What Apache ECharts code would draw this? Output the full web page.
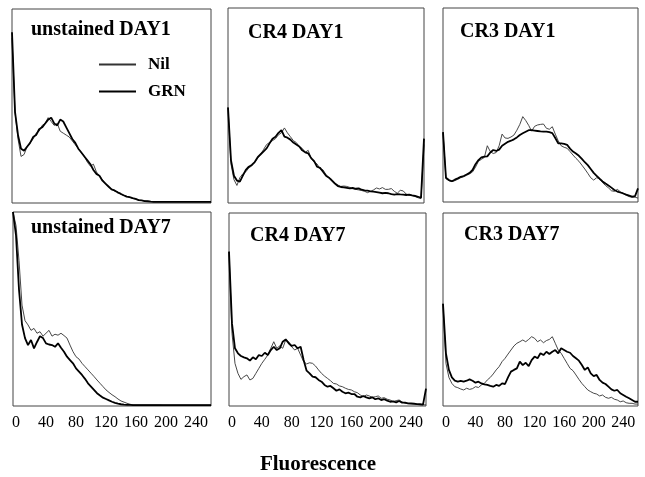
<!DOCTYPE html>
<html><head><meta charset="utf-8">
<script src="https://cdn.jsdelivr.net/npm/echarts@6/dist/echarts.min.js"></script>
<style>html,body{margin:0;padding:0;background:#fff}#c{width:645px;height:477px}</style>
</head><body><div id="c"></div><script>
// Fluorescence channel bins (x categories)
const xBins = [-4,0,4,8,12,16,20,24,28,32,36,40,44,48,52,56,60,64,68,72,76,80,84,88,92,96,100,104,108,112,116,120,124,128,132,136,140,144,148,152,156,160,164,168,172,176,180,184,188,192,196,200,204,208,212,216,220,224,228,232,236,240,244,248,252,256,260];
const tickLabels = ['0','40','80','120','160','200','240'];
const panelTitles = ['unstained DAY1','CR4 DAY1','CR3 DAY1','unstained DAY7','CR4 DAY7','CR3 DAY7'];
const axisTitle = 'Fluorescence';
const seriesNames = ['Nil','GRN'];

// Relative counts (% of panel height)
const nil1 = [85,47,33,24,25,29,31,33,36,37, 40,41,44,42,40,41,37,36,35,34, 32,30,28,26,24,21,19,20,16,14, 12,10,8.4,7.2,6.2,5.8,4.5,4,3.5,3, 2.4,2,1.6,1.3,1.1,0.9,0.8,0.6,0.6,0.6, 0.6,0.6,0.6,0.6,0.6,0.6,0.6,0.6,0.6,0.6, 0.6,0.6,0.6,0.6,0.6,0.6,0.6];
const grn1 = [88,47,35,28,27,29,31,34,35,38, 39,41,43,44,41,40,43,42,39,36, 33,31,28,26,24,22,20,17,15,14, 11.5,10,8.5,7,6.5,5.5,4.8,4,3.3,3, 2.5,2.1,1.5,1.4,1,0.9,0.7,0.6,0.6,0.6, 0.6,0.6,0.6,0.6,0.6,0.6,0.6,0.6,0.6,0.6, 0.6,0.6,0.6,0.6,0.6,0.6,0.6];
const nil2 = [49,20,12,9,13,15,16,18,19,21, 23,25,27.5,30,31,32,33,35,36,38.5, 36,34,32,31,29,28,26,27,23,21, 20,17.5,17,14.5,13,12,10,9.2,8.5,8.7, 8.5,8,7.3,7,6.7,6.4,6,5.3,6,6.7, 7.7,7.2,7.9,7,7,7.4,6,5,6.5,6.2, 4.6,3.9,3.8,3.3,2.7,2.2,30];
const grn2 = [49,22,14,11.5,11,14,17,18.6,19.5,21, 23.5,25,26.5,28,30.6,33,34,36,37.4,34, 33.5,32.5,31,30,29,27,26,25.5,23,21.5, 18.6,18,16,14,13,11.5,10,8.7,8.2,8, 7.8,7.5,7.7,7.3,7.5,6.8,6.5,6.3,6,5.8, 5.6,5.3,5,5.2,5,4.5,4.3,4.6,4.4,4.3, 4.1,4.3,3.9,3.6,3.2,2.7,33];
const nil3 = [36,12,11,10.5,11,11.7,12.5,13,13.8,14.5, 15.5,18,21,22,23,29,26,25,25.5,29, 35,33,32.8,33.5,34.5,37,40,44,42,39.5, 36.5,39,39.7,40,40.2,38,37.5,38.8,35,31.5, 29,28.2,27.7,26,24.2,22.5,21,19,17,14.8, 12.5,11.3,12.5,12,10,8.5,7.3,5.8,5.5,6.5, 5.3,4.4,3.5,2.8,2.4,2.5,2];
const grn3 = [36,12.5,11.3,10.7,11.5,12.2,13,13.4,14.2,15, 16.5,19.5,21.6,23,23.4,23.5,25.5,26.8,26.3,27, 29,30,31,31.6,32.3,33.3,34.5,35.4,36.2,37, 37,36.8,36.6,36.4,36.3,36.3,36,35.5,33,30.2, 30.2,30,29.5,27.5,26,25,23.8,22.2,20.5,19, 17,15,13.5,12,10.6,9.5,8.5,7.4,6.2,5.4, 4.9,4.4,3.8,3.3,2.8,3,7];
const nil4 = [100,93,75,52,44,41.8,39,40,37.5,38.3, 36,37.5,39,36,37,36.5,37.5,36.3,35,31.4, 28,25.4,24.2,22,20.3,18.6,16.9,15.2,13.4,11.7, 10,8.3,7,5.8,4.8,3.6,2.6,2,1.4,0.9, 0.6,0.6,0.6,0.6,0.6,0.6,0.6,0.6,0.6,0.6, 0.5,0.5,0.5,0.5,0.5,0.5,0.5,0.5,0.5,0.5, 0.5,0.5,0.5,0.5,0.5,0.5,0.5];
const grn4 = [100,88,60,42,35,31.4,34,29.7,33,36, 35,32.3,31.7,31.4,30.5,32.3,30,28,25.4,23.7, 22,19.4,17.7,16,14,11.7,10,8.3,6.6,5.4, 4.3,3.6,2.9,2.2,1.6,1.2,0.9,0.7,0.6,0.6, 0.5,0.5,0.5,0.5,0.5,0.5,0.5,0.5,0.5,0.5, 0.5,0.5,0.5,0.5,0.5,0.5,0.5,0.5,0.5,0.5, 0.5,0.5,0.5,0.5,0.5,0.5,0.5];
const nil5 = [80,37.7,22.1,16.9,13.8,15.2,16.1,13.5,14.3,16.9, 19.5,22.1,24.2,26.4,29.9,33.3,29.9,31.1,29.9,34.2, 33.3,30.7,29,29.9,26.4,23,21.8,22.4,22.1,20.7, 18.7,16.9,15.5,14.3,13.1,11.7,11.4,10.4,10,9.2, 8.6,8.3,7.4,6.9,5.7,4.8,5.7,5.2,4.5,4.8, 5.2,4,4.3,3.5,3.1,2.2,2.8,3.1,2.1,1.4, 1.2,1,0.9,0.8,0.7,0.6,0.6];
const grn5 = [80,42.8,29.9,27.3,25.9,25.2,24.7,23.5,25.2,24.2, 26.4,25.9,27.6,26.4,29,30.7,29,29.9,33.3,34.5, 32.5,31.1,31.6,29.9,30.7,23.8,18.3,16.9,15.2,14.9, 13.5,12.6,10.9,10,10.4,9.2,7.9,8.6,7.4,6.6, 6.9,6.2,6.2,4.8,4.5,5.2,4.5,4,4.5,3.5, 4,3.1,3.5,2.8,2.2,2.4,1.9,2.6,1.7,1.7, 1.4,1.4,1.2,1,0.9,0.7,9];
const nil6 = [53,22.1,14.8,11.7,10,9.5,8.8,8.3,9.2,8.6, 9,10,9.6,10.9,11.7,13.5,14.8,16.6,18.7,20.4, 23,24.7,26.9,29,31.1,32.5,33.3,34.2,33.3,34.5, 35.9,35.1,33.3,34.2,32.8,33.9,34.5,35.9,32.5,29, 27.3,24.7,22.1,19.5,18.3,16.1,13.8,11.7,10,8.3, 7.4,6.6,6.2,5.2,5.7,4.5,4,4.5,3.5,3.1, 2.2,2.6,1.7,1.4,1.4,1,1];
const grn6 = [53,27.3,18.7,14.8,13.1,12.6,13,12.6,13.1,13.8, 13.1,12.1,12.6,11.7,11.2,10.9,10.4,10,10.9,10.4, 11.7,11.4,14.8,17.8,18.7,19.5,23,21.2,22.4,20.7, 23.8,25.6,24.7,27.3,26.4,28.1,26.9,28.1,29,27.3, 29.9,29,28.1,27.6,25.9,24.7,23.5,21.2,18.7,20, 16.9,15.5,16.1,13.5,12.1,11.4,10,8.6,7.9,8.3, 6.6,5.7,4.8,4,3.1,2.2,2.2];

const nilData = [nil1, nil2, nil3, nil4, nil5, nil6];
const grnData = [grn1, grn2, grn3, grn4, grn5, grn6];

const FONT = 'Liberation Serif';
const grids = [
  {left:12, top:9, width:199, height:194},
  {left:228, top:8, width:196, height:195},
  {left:443, top:8, width:195, height:194},
  {left:13, top:212, width:198, height:194},
  {left:229, top:213, width:197, height:193},
  {left:443, top:213, width:195, height:193}
];
const titlePos = [[31,19.5],[248,22.5],[460,21.5],[31,218],[250,225.5],[464,224.5]];

const chart = echarts.init(document.getElementById('c'), null, {renderer:'canvas'});
const option = {
  animation: false,
  backgroundColor: '#fff',
  title: panelTitles.map((t, i) => ({
    text: t, left: titlePos[i][0], top: titlePos[i][1], padding: 0,
    textStyle: {fontFamily: FONT, fontWeight: 'bold', fontSize: 20, color: '#000'}
  })).concat([{
    text: axisTitle, left: 318, top: 454, padding: 0, textAlign: 'center',
    textStyle: {fontFamily: FONT, fontWeight: 'bold', fontSize: 21, color: '#000'}
  }]),
  legend: {
    data: seriesNames, orient: 'vertical', left: 98, top: 56,
    itemWidth: 37, itemHeight: 14, itemGap: 10, padding: 0,
    itemStyle: {color: 'rgba(0,0,0,0)', borderWidth: 0, opacity: 0},
    textStyle: {fontFamily: FONT, fontWeight: 'bold', fontSize: 17, color: '#000', padding: [0,0,0,7]}
  },
  grid: grids.map(g => Object.assign({show: true, borderColor: '#444', borderWidth: 1, backgroundColor: 'rgba(0,0,0,0)', outerBoundsMode: 'none', containLabel: false}, g)),
  xAxis: grids.map((g, i) => ({
    type: 'category', gridIndex: i, data: xBins, boundaryGap: false,
    axisLine: {show: false}, axisTick: {show: false}, splitLine: {show: false},
    axisLabel: {
      show: i >= 3, interval: (idx, val) => tickLabels.indexOf(String(val)) >= 0,
      color: '#000', fontFamily: FONT, fontSize: 16, margin: 9, hideOverlap: false
    }
  })),
  yAxis: grids.map((g, i) => ({type: 'value', gridIndex: i, min: 0, max: 100, show: false})),
  series: []
};
for (let i = 0; i < 6; i++) {
  option.series.push({
    name: 'Nil', type: 'line', xAxisIndex: i, yAxisIndex: i, data: nilData[i],
    symbol: 'none', smooth: false, clip: true,
    lineStyle: {color: '#333', width: 0.9}, itemStyle: {color: '#333'}
  });
  option.series.push({
    name: 'GRN', type: 'line', xAxisIndex: i, yAxisIndex: i, data: grnData[i],
    symbol: 'none', smooth: false, clip: true,
    lineStyle: {color: '#000', width: 1.8}, itemStyle: {color: '#000'}
  });
}
chart.setOption(option);
</script></body></html>
